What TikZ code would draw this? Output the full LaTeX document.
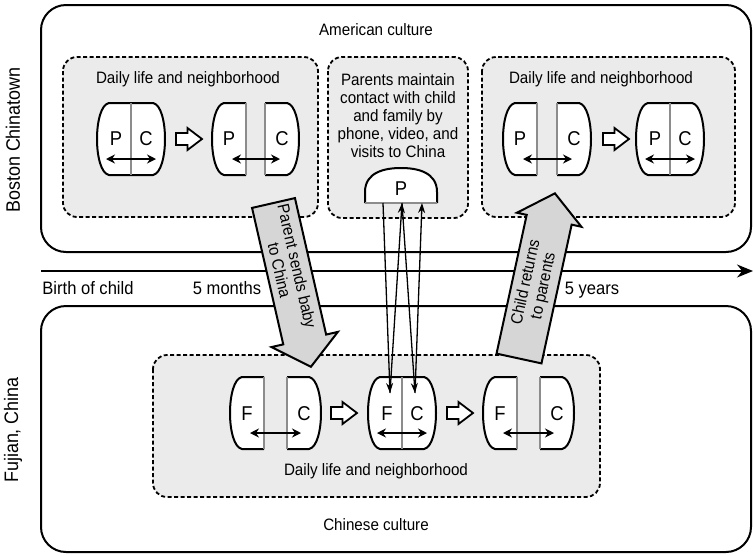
\documentclass[tikz,border=0pt]{standalone}
\usepackage{fontspec}
\setmainfont[FakeStretch=0.92]{Liberation Sans}
\usetikzlibrary{arrows.meta}
\definecolor{boxgray}{HTML}{EBEBEB}
\definecolor{arrowgray}{HTML}{D6D6D6}
\definecolor{divgray}{HTML}{8C8C8C}
\tikzset{
  halfL/.pic={
    \fill[white] (0,0) -- (-22,0) .. controls (-38,3) and (-38,69) .. (-22,72) -- (0,72) -- cycle;
    \draw[shapeline] (0,0) -- (-22,0) .. controls (-38,3) and (-38,69) .. (-22,72) -- (0,72);
    \draw[divline] (0,0) -- (0,72);
  },
  halfR/.pic={
    \fill[white] (0,0) -- (22,0) .. controls (38,3) and (38,69) .. (22,72) -- (0,72) -- cycle;
    \draw[shapeline] (0,0) -- (22,0) .. controls (38,3) and (38,69) .. (22,72) -- (0,72);
    \draw[divline] (0,0) -- (0,72);
  },
  hollowarrow/.pic={
    \draw[hollow] (0,-6) -- (11.5,-6) -- (11.5,-11) -- (26,0) -- (11.5,11) -- (11.5,6) -- (0,6) -- cycle;
  },
}
\begin{document}
\begin{tikzpicture}[x=1pt,y=-1pt,
  outerbox/.style={draw=black, line width=2pt, rounded corners=25pt},
  dashbox/.style={draw=black, line width=1.8pt, dash pattern=on 4pt off 2.5pt, fill=boxgray, rounded corners=14pt},
  lbl/.style={font=\fontsize{16.5}{18}\selectfont, inner sep=0pt},
  tlbl/.style={font=\fontsize{18}{20}\selectfont, inner sep=0pt, anchor=base},
  vlbl/.style={font=\fontsize{19.5}{22}\selectfont, inner sep=0pt, rotate=90},
  letter/.style={font=\fontsize{20}{22}\selectfont, inner sep=0pt, anchor=base},
  shapeline/.style={line width=2pt, draw=black, line join=round},
  divline/.style={line width=1.4pt, draw=divgray},
  dbl/.style={line width=2pt, {Stealth[length=9pt,width=9pt]}-{Stealth[length=9pt,width=9pt]}},
  hollow/.style={line width=1.8pt, draw=black, fill=white, line join=miter},
  bigarrow/.style={line width=2pt, draw=black, fill=arrowgray, line join=miter},
  link/.style={line width=1.3pt, -{Stealth[length=10pt,width=7pt]}},
]
\useasboundingbox (0,0) rectangle (753,555);
% outer regions
\draw[outerbox] (41,5) rectangle (751,252);
\draw[outerbox] (41,306) rectangle (751,552);
\node[lbl, anchor=base] (american) at (376,35.9) {American culture};
\node[lbl, anchor=base] (chinese) at (376,530.9) {Chinese culture};
\node[vlbl] (boston) at (13,140) {Boston Chinatown};
\node[vlbl] (fujian) at (13,430) {Fujian, China};
% timeline
\coordinate (tl0) at (41,271);
\coordinate (tl1) at (753,271);
\draw[line width=2pt, -{Stealth[length=16pt,width=13pt]}] (tl0) -- (tl1);
\node[tlbl] (birth) at (88,294.5) {Birth of child};
\node[tlbl] (months) at (227,294.5) {5 months};
\node[tlbl] (years) at (592,294.5) {5 years};
% dashed boxes
\draw[dashbox] (63,57) rectangle (318,217);
\draw[dashbox] (328,57) rectangle (468,218);
\draw[dashbox] (482,57) rectangle (735,217);
\draw[dashbox] (153,355) rectangle (600,497);
\node[lbl, anchor=base] (dl1) at (188,83.9) {Daily life and neighborhood};
\node[lbl, anchor=base] (dl2) at (601,83.9) {Daily life and neighborhood};
\node[lbl, anchor=base] (dl3) at (376,475.9) {Daily life and neighborhood};
\node[lbl, align=center] (mtext) at (398,116) {Parents maintain\\contact with child\\and family by\\phone, video, and\\visits to China};
% top-left shapes
\pic at (131,103) {halfL}; \pic at (131,103) {halfR};
\node[letter] (tlP1) at (116,145.2) {P}; \node[letter] (tlC1) at (146,145.2) {C};
\draw[dbl] (106,159) -- (156,159);
\pic at (176,139) {hollowarrow};
\pic at (246,103) {halfL}; \pic at (265,103) {halfR};
\node[letter] (tlP2) at (229,145.2) {P}; \node[letter] (tlC2) at (282,145.2) {C};
\draw[dbl] (232,159) -- (280,159);
% top-right shapes
\pic at (537,103) {halfL}; \pic at (557,103) {halfR};
\node[letter] (trP1) at (520,145.2) {P}; \node[letter] (trC1) at (574,145.2) {C};
\draw[dbl] (523,159) -- (572,159);
\pic at (603,139) {hollowarrow};
\pic at (670,103) {halfL}; \pic at (670,103) {halfR};
\node[letter] (trP2) at (655,145.2) {P}; \node[letter] (trC2) at (685,145.2) {C};
\draw[dbl] (645,159) -- (695,159);
% bottom shapes
\pic at (264,377) {halfL}; \pic at (287,377) {halfR};
\node[letter] (bF1) at (247,420.2) {F}; \node[letter] (bC1) at (304,420.2) {C};
\draw[dbl] (250,433) -- (301,433);
\pic at (331,413) {hollowarrow};
\pic at (402,377) {halfL}; \pic at (402,377) {halfR};
\node[letter] (bF2) at (387,420.2) {F}; \node[letter] (bC2) at (417,420.2) {C};
\draw[dbl] (377,433) -- (427,433);
\pic at (447,413) {hollowarrow};
\pic at (517,377) {halfL}; \pic at (540,377) {halfR};
\node[letter] (bF3) at (500,420.2) {F}; \node[letter] (bC3) at (557,420.2) {C};
\draw[dbl] (503,433) -- (554,433);
% P dome
\fill[white] (365,203) -- (365,192) .. controls (365,172) and (385,168) .. (401,168) .. controls (417,168) and (437,172) .. (437,192) -- (437,203) -- cycle;
\draw[shapeline] (365,203) -- (365,192) .. controls (365,172) and (385,168) .. (401,168) .. controls (417,168) and (437,172) .. (437,192) -- (437,203);
\draw[divline] (365,203) -- (437,203);
\node[letter] (domeP) at (401,195.2) {P};
% big arrows
\begin{scope}[shift={(273.5,203)}, rotate=-77.12]
  \draw[bigarrow] (0,-22) -- (140,-22) -- (140,-34) -- (168,0) -- (140,34) -- (140,22) -- (0,22) -- cycle;
  \node[lbl, align=center, rotate=-77.12] (a1text) at (67,0) {Parent sends baby\\to China};
\end{scope}
\begin{scope}[shift={(519,358.5)}, rotate=77.73]
  \draw[bigarrow] (0,-23) -- (142,-23) -- (142,-33) -- (169,0) -- (142,33) -- (142,23) -- (0,23) -- cycle;
  \node[lbl, align=center, rotate=77.73] (a2text) at (76,0) {Child returns\\to parents};
\end{scope}
% contact links
\coordinate (p1) at (383,203);
\coordinate (p2) at (402,203);
\coordinate (p3) at (422,203);
\coordinate (fp) at (390,393);
\coordinate (cp) at (415,393);
\draw[link] (p1) -- (fp);
\draw[link] (fp) -- (p2);
\draw[link] (p2) -- (cp);
\draw[link] (cp) -- (p3);
\end{tikzpicture}
\end{document}
